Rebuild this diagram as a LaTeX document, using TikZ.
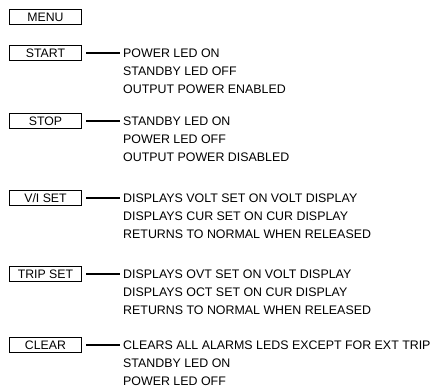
\documentclass[tikz,border=0pt]{standalone}
\usepackage{fontspec}
\setmainfont{Liberation Sans}
\begin{document}
\begin{tikzpicture}[x=1pt,y=-1pt,
  keybox/.style={draw,line width=1.8pt,minimum width=72pt,minimum height=15pt,inner sep=0pt,font=\fontsize{12.3}{13}\selectfont},
  desc/.style={anchor=west,inner sep=0pt,font=\fontsize{12.4}{13}\selectfont,align=left},
  conn/.style={line width=1.3pt}]
\useasboundingbox (0,0) rectangle (435,391);
\node[keybox] (menu) at (45.5,17) {MENU};
\foreach \n/\lab/\y/\a/\b/\c in {start/START/53/POWER LED ON/STANDBY LED OFF/OUTPUT POWER ENABLED,
  stop/STOP/121/STANDBY LED ON/POWER LED OFF/OUTPUT POWER DISABLED,
  vi/{V/I SET}/198/DISPLAYS VOLT SET ON VOLT DISPLAY/DISPLAYS CUR SET ON CUR DISPLAY/RETURNS TO NORMAL WHEN RELEASED,
  trip/TRIP SET/274/DISPLAYS OVT SET ON VOLT DISPLAY/DISPLAYS OCT SET ON CUR DISPLAY/RETURNS TO NORMAL WHEN RELEASED,
  clear/CLEAR/345/CLEARS ALL ALARMS LEDS EXCEPT FOR EXT TRIP/STANDBY LED ON/POWER LED OFF}{
  \node[keybox] (\n) at (45.5,\y) {\lab};
  \node[desc] (\n a) at (123,\y) {\a};
  \node[desc] (\n b) at (123,\y+18) {\b};
  \node[desc] (\n c) at (123,\y+36) {\c};
  \coordinate (\n s) at (86,\y);
  \draw[conn] (\n s) -- ([xshift=-3pt]\n a.west);
}
\end{tikzpicture}
\end{document}
